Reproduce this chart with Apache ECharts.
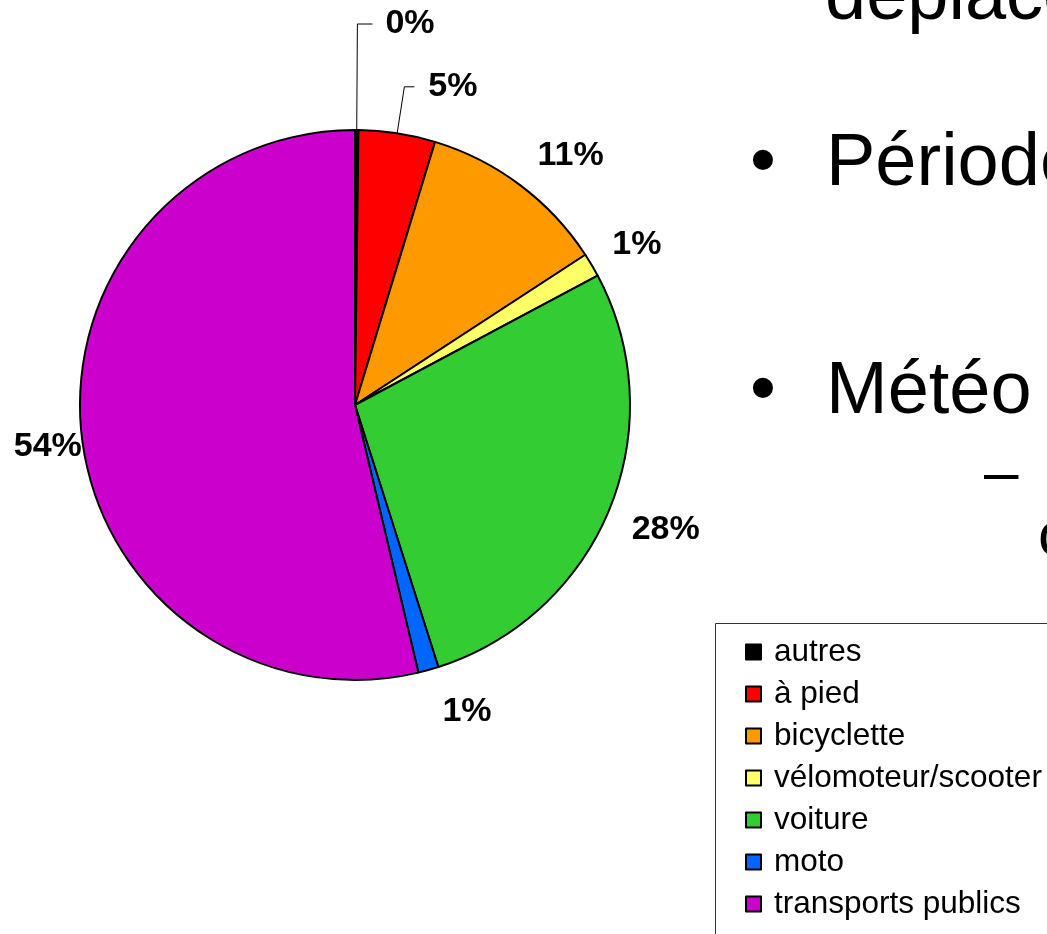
<!DOCTYPE html>
<html>
<head>
<meta charset="utf-8">
<script src="https://cdn.jsdelivr.net/npm/echarts@6/dist/echarts.min.js"></script>
<style>
  html, body { margin: 0; padding: 0; background: #fff; }
  #main { width: 1047px; height: 934px; }
</style>
</head>
<body>
<div id="main"></div>
<script>
// modes de déplacement (parts en %)
const modes = ['autres', 'à pied', 'bicyclette', 'vélomoteur/scooter', 'voiture', 'moto', 'transports publics'];
const parts = [0.2, 4.5, 11.1, 1.4, 27.9, 1.2, 53.7];
const couleurs = ['#000000', '#FF0000', '#FF9900', '#FFFF66', '#33CC33', '#0066FF', '#CC00CC'];

// réglage des étiquettes (traits de rappel + petits décalages)
const lineLen = [106, 47, 34, 24, 28, 45, 0];
const lineLen2 = [15, 10, 0, 0, 0, 0, 0];
const labelGap = [13, 14, 0, 0, 0, 0, 0];
const showLine = [true, true, false, false, false, false, false];
const labelDx = [0, 0, -3, 0, -4, 2, 0];
const labelDy = [0, 0, -2, -8, 10, -2, 10];

const FONT = '"Liberation Sans", Arial, sans-serif';

let myChart = echarts.init(document.getElementById('main'));

let slideText = function(txt, x, y, size) {
  return {
    type: 'text',
    left: x, top: y,
    silent: true,
    style: { text: txt, font: 'normal ' + size + 'px ' + FONT, fill: '#000' }
  };
};

myChart.setOption({
  backgroundColor: '#fff',
  animation: false,
  color: couleurs,
  graphic: [
    slideText('déplacements', 825, -38, 74),
    slideText('•', 750, 128, 74),
    slideText('Période', 826, 128, 74),
    slideText('•', 750, 356, 74),
    slideText('Météo', 826, 356, 74),
    slideText('–', 984, 445, 62),
    slideText('c', 1038, 507, 62),
    // cadre de la légende
    {
      type: 'rect',
      silent: true,
      z: 0,
      shape: { x: 715.5, y: 623.5, width: 420, height: 400 },
      style: { fill: '#fff', stroke: '#333', lineWidth: 1 }
    }
  ],
  legend: {
    orient: 'vertical',
    left: 745,
    top: 636,
    padding: 0,
    selectedMode: false,
    icon: 'rect',
    itemWidth: 15,
    itemHeight: 15,
    itemGap: 10,
    textStyle: {
      fontFamily: FONT,
      fontSize: 31.5,
      lineHeight: 32,
      color: '#000',
      padding: [0, 0, 0, 8]
    },
    data: modes
  },
  series: [{
    name: 'modes',
    type: 'pie',
    center: [355, 405],
    radius: 275,
    startAngle: 90,
    clockwise: true,
    avoidLabelOverlap: false,
    emphasis: { disabled: true },
    itemStyle: { borderColor: '#000', borderWidth: 2 },
    label: {
      show: true,
      position: 'outside',
      fontFamily: FONT,
      fontSize: 34,
      fontWeight: 'bold',
      color: '#000',
      distanceToLabelLine: 0,
      formatter: function(p) { return Math.round(p.value) + '%'; }
    },
    labelLine: { lineStyle: { color: '#000', width: 1 } },
    labelLayout: function(p) {
      let i = p.dataIndex;
      if (!labelDx[i] && !labelDy[i]) return {};
      return { dx: labelDx[i], dy: labelDy[i] };
    },
    data: modes.map(function(m, i) {
      return {
        name: m,
        value: parts[i],
        label: { distanceToLabelLine: labelGap[i] },
        labelLine: { show: showLine[i], length: lineLen[i], length2: lineLen2[i] }
      };
    })
  }]
});
</script>
</body>
</html>
